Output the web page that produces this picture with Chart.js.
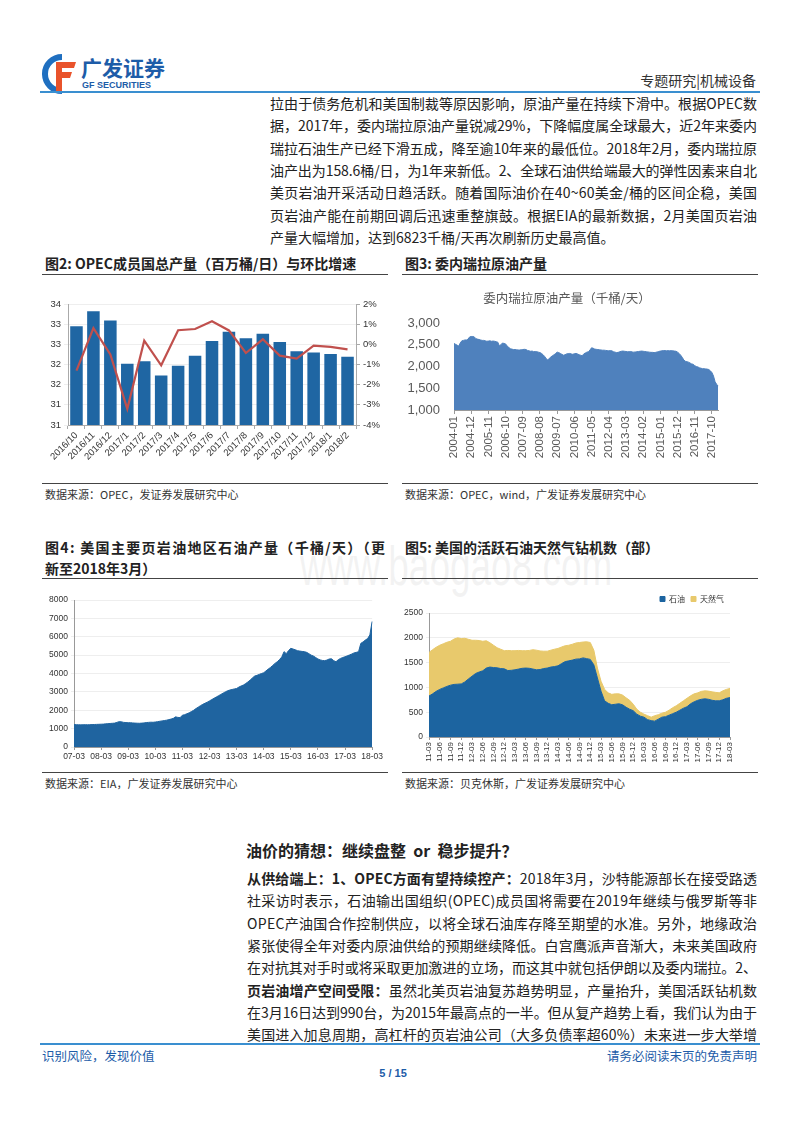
<!DOCTYPE html>
<html><head><meta charset="utf-8">
<script src="https://cdn.jsdelivr.net/npm/chart.js@4.4.1/dist/chart.umd.min.js"></script>
<style>
html,body{margin:0;padding:0;background:#fff;}
body{width:800px;height:1132px;position:relative;overflow:hidden;font-family:"Noto Sans CJK SC","Noto Sans",sans-serif;color:#222;}
.abs{position:absolute;}
.para{position:absolute;font-size:14px;line-height:22.35px;}
.para > div{white-space:nowrap;height:22.35px;}
.fit{display:inline-block;white-space:nowrap;}
.ftitle{position:absolute;font-weight:bold;font-size:14px;line-height:21px;color:#222;white-space:nowrap;}
.hr{position:absolute;height:1px;background:#444;}
.src{position:absolute;font-size:11px;color:#333;line-height:14px;white-space:nowrap;}
canvas{position:absolute;}
</style></head>
<body>
<!-- header -->
<svg class="abs" style="left:42px;top:54px" width="38" height="40" viewBox="0 0 38 40">
  <path d="M20 3 A17 17 0 1 0 20 37" fill="none" stroke="#1f6fc0" stroke-width="6"/>
  <path d="M14 8 H34 L32 14 H20 V18 H30 L28 24 H20 V37 H14 Z" fill="#e9532b"/>
</svg>
<div class="abs" style="left:81px;top:54px;font-size:21px;font-weight:bold;color:#1d5ca8;line-height:26px;">广发证券</div>
<div class="abs" style="left:82px;top:80px;font-size:9px;font-weight:bold;color:#1d5ca8;font-family:'Liberation Sans',Arial,sans-serif;line-height:11px;">GF SECURITIES</div>
<div class="abs" style="right:44px;top:71px;font-size:14px;color:#333;line-height:18px;">专题研究|机械设备</div>
<div class="abs" style="left:40px;top:91px;width:720px;height:2px;background:#3a8fd0;"></div>

<div class="para" style="left:270px;top:92px;" data-w="487">
<div><span class="fit">拉由于债务危机和美国制裁等原因影响，原油产量在持续下滑中。根据OPEC数</span></div>
<div><span class="fit">据，2017年，委内瑞拉原油产量锐减29%，下降幅度属全球最大，近2年来委内</span></div>
<div><span class="fit">瑞拉石油生产已经下滑五成，降至逾10年来的最低位。2018年2月，委内瑞拉原</span></div>
<div><span class="fit">油产出为158.6桶/日，为1年来新低。2、全球石油供给端最大的弹性因素来自北</span></div>
<div><span class="fit">美页岩油开采活动日趋活跃。随着国际油价在40~60美金/桶的区间企稳，美国</span></div>
<div><span class="fit">页岩油产能在前期回调后迅速重整旗鼓。根据EIA的最新数据，2月美国页岩油</span></div>
<div><span>产量大幅增加，达到6823千桶/天再次刷新历史最高值。</span></div>
</div>

<div class="ftitle" style="left:45px;top:253px;">图2:&nbsp;OPEC成员国总产量（百万桶/日）与环比增速</div>
<div class="ftitle" style="left:405px;top:253px;">图3:&nbsp;委内瑞拉原油产量</div>
<div class="hr" style="left:42px;top:274px;width:346px;"></div>
<div class="hr" style="left:402px;top:274px;width:356px;"></div>

<canvas id="c1" width="350" height="180" style="left:40px;top:295px;"></canvas>
<canvas id="c2" width="334" height="180" style="left:400px;top:290px;"></canvas>

<div class="hr" style="left:42px;top:483px;width:346px;"></div>
<div class="hr" style="left:402px;top:483px;width:356px;"></div>
<div class="src" style="left:45px;top:487px;">数据来源：OPEC，发证券发展研究中心</div>
<div class="src" style="left:405px;top:487px;">数据来源：OPEC，wind，广发证券发展研究中心</div>

<div class="abs" style="left:300px;top:535px;font-size:56px;color:rgba(200,200,200,0.22);font-family:'Liberation Sans',Arial,sans-serif;line-height:62px;transform:scaleX(0.66);transform-origin:0 0;white-space:nowrap;">www.baogao8.com</div>

<div class="ftitle" style="left:45px;top:537px;" data-w="340">
<div><span class="fit">图4:&nbsp;美国主要页岩油地区石油产量（千桶/天）（更</span></div>
<div>新至2018年3月）</div>
</div>
<div class="ftitle" style="left:405px;top:537px;">图5:&nbsp;美国的活跃石油天然气钻机数（部）</div>
<div class="hr" style="left:42px;top:578px;width:346px;"></div>
<div class="hr" style="left:402px;top:578px;width:356px;"></div>

<canvas id="c3" width="345" height="180" style="left:40px;top:585px;"></canvas>
<canvas id="c4" width="345" height="185" style="left:400px;top:585px;"></canvas>

<div class="hr" style="left:42px;top:772px;width:346px;"></div>
<div class="hr" style="left:402px;top:772px;width:356px;"></div>
<div class="src" style="left:45px;top:776px;">数据来源：EIA，广发证券发展研究中心</div>
<div class="src" style="left:405px;top:776px;">数据来源：贝克休斯，广发证券发展研究中心</div>

<div class="abs" style="left:246px;top:840px;font-size:16px;font-weight:bold;line-height:20px;white-space:nowrap;">油价的猜想：继续盘整&nbsp;&nbsp;or&nbsp;&nbsp;稳步提升？</div>

<div class="para" style="left:247px;top:867px;" data-w="510">
<div><span class="fit"><b>从供给端上：1、OPEC方面有望持续控产：</b>2018年3月，沙特能源部长在接受路透</span></div>
<div><span class="fit">社采访时表示，石油输出国组织(OPEC)成员国将需要在2019年继续与俄罗斯等非</span></div>
<div><span class="fit">OPEC产油国合作控制供应，以将全球石油库存降至期望的水准。另外，地缘政治</span></div>
<div><span class="fit">紧张使得全年对委内原油供给的预期继续降低。白宫鹰派声音渐大，未来美国政府</span></div>
<div><span class="fit">在对抗其对手时或将采取更加激进的立场，而这其中就包括伊朗以及委内瑞拉。2、</span></div>
<div><span class="fit"><b>页岩油增产空间受限：</b>虽然北美页岩油复苏趋势明显，产量抬升，美国活跃钻机数</span></div>
<div><span class="fit">在3月16日达到990台，为2015年最高点的一半。但从复产趋势上看，我们认为由于</span></div>
<div><span class="fit">美国进入加息周期，高杠杆的页岩油公司（大多负债率超60%）未来进一步大举增</span></div>
</div>

<div class="abs" style="left:40px;top:1043px;width:720px;height:2px;background:#3a8fd0;"></div>
<div class="abs" style="left:42px;top:1047px;font-size:12.5px;color:#1d5ca8;line-height:18px;">识别风险，发现价值</div>
<div class="abs" style="right:43px;top:1047px;font-size:12.5px;color:#1d5ca8;line-height:18px;">请务必阅读末页的免责声明</div>
<div class="abs" style="left:375px;top:1066px;width:36px;text-align:center;font-size:11px;font-weight:bold;color:#1d5ca8;font-family:'Liberation Sans',Arial,sans-serif;line-height:14px;">5 / 15</div>

<script>
// justify each text line to its column width
document.querySelectorAll('[data-w]').forEach(box => {
  const target = parseFloat(box.dataset.w);
  box.querySelectorAll('.fit').forEach(el => {
    el.style.letterSpacing = '0px';
    const w = el.getBoundingClientRect().width;
    const n = [...el.textContent].length;
    el.style.letterSpacing = ((target - w) / (n - 1)) + 'px';
  });
});

// ---------- Figure 2: OPEC output & MoM ----------
const opecMonths = ['2016/10','2016/11','2016/12','2017/1','2017/2','2017/3','2017/4','2017/5','2017/6','2017/7','2017/8','2017/9','2017/10','2017/11','2017/12','2018/1','2018/2'];
const opecOutput = [33.45,33.82,33.59,32.52,32.58,32.23,32.47,32.72,33.08,33.31,33.15,33.26,33.06,32.83,32.80,32.76,32.69];
const opecMoM = [-1.3,0.8,-0.5,-3.2,0.18,-1.04,0.7,0.76,1.14,0.69,-0.43,0.25,-0.56,-0.71,-0.07,-0.13,-0.25];
const opecLeftTicks = ['31','31','32','32','33','33','34'];

// ---------- Figure 3: Venezuela crude output (kb/d), monthly 2004-01..2018-02 ----------
const venStart = [2004, 1];
const venOutput = [
 2530,2510,2490,2470,2540,2590,2600,2610,2610,2630,2680,2690,
 2690,2680,2640,2630,2620,2610,2600,2600,2590,2580,2585,2590,
 2580,2585,2580,2570,2560,2475,2500,2540,2530,2520,2470,2440,
 2410,2400,2390,2390,2385,2380,2380,2385,2390,2395,2390,2370,
 2360,2350,2355,2340,2345,2340,2330,2320,2300,2270,2230,2180,
 2150,2190,2220,2250,2270,2300,2330,2320,2300,2280,2260,2270,
 2290,2295,2300,2290,2280,2295,2300,2290,2270,2260,2245,2290,
 2310,2330,2340,2380,2430,2420,2400,2395,2390,2385,2380,2375,
 2375,2370,2365,2360,2365,2360,2340,2330,2320,2325,2340,2350,
 2355,2350,2345,2340,2340,2345,2335,2330,2335,2340,2345,2350,
 2355,2350,2345,2340,2335,2330,2325,2325,2320,2325,2335,2345,
 2355,2360,2365,2365,2360,2365,2360,2365,2360,2355,2350,2330,
 2300,2260,2210,2150,2120,2110,2100,2080,2060,2050,2020,2000,
 1990,1970,1960,1950,1950,1945,1940,1930,1900,1860,1780,1650,
 1590,1550];

// ---------- Figure 4: US shale oil output (kb/d), monthly 07-03..18-03 ----------
const shaleStart = [2007, 3];
const shaleOutput = [
 1220,1215,1210,1205,1210,1215,1210,1215,1220,1225,
 1230,1235,1240,1245,1260,1270,1280,1290,1300,1340,1380,1370,
 1340,1330,1320,1325,1310,1300,1295,1290,1300,1310,1330,1340,
 1350,1345,1360,1380,1400,1420,1440,1460,1490,1520,1560,1640,
 1610,1600,1730,1760,1810,1860,1930,2000,2090,2170,2250,2320,
 2380,2440,2510,2580,2650,2720,2790,2860,2930,3000,3060,3100,
 3130,3160,3185,3260,3320,3370,3450,3540,3640,3760,3860,3900,
 3950,4000,4040,4140,4240,4330,4440,4550,4640,4760,4900,5190,
 5080,5250,5370,5330,5290,5240,5220,5200,5190,5150,5080,5000,
 4950,4870,4790,4740,4710,4700,4730,4790,4800,4700,4640,4750,
 4820,4870,4910,4960,5010,5060,5120,5150,5190,5640,5720,5820,
 5900,6100,6830];

// ---------- Figure 5: US active rigs, monthly 11-03..18-03 ----------
const rigStart = [2011, 3];
const rigOil = [
 825,870,920,960,990,1020,1045,1060,1065,1070,
 1110,1170,1225,1280,1310,1335,1390,1410,1400,1395,1380,1375,
 1340,1345,1355,1370,1385,1390,1385,1370,1355,1360,1380,1390,
 1410,1420,1435,1480,1520,1535,1550,1570,1575,1595,1580,1565,
 1455,1190,925,730,680,650,660,670,650,600,560,530,
 460,420,400,350,330,320,360,400,410,440,470,500,
 540,580,610,670,710,740,760,770,760,740,730,730,
 750,780,795];
const rigGas = [
 880,890,890,890,890,890,885,915,935,915,
 880,800,725,670,635,595,550,490,450,405,390,365,
 405,395,385,375,355,350,360,390,395,375,350,340,
 340,350,350,335,320,315,320,325,330,320,340,340,
 295,200,200,230,210,210,210,200,195,190,180,130,
 100,80,60,80,70,110,90,80,90,100,120,130,
 140,150,170,160,160,150,160,160,165,170,170,160,
 180,180,185];
const rigSeriesNames = ['石油','天然气'];

function monthLabels(start, n, fmt) {
  const out = [];
  let y = start[0], m = start[1];
  for (let i = 0; i < n; i++) {
    const mm = String(m).padStart(2, '0');
    out.push(fmt === 'long' ? y + '-' + mm : String(y % 100).padStart(2, '0') + '-' + mm);
    m++; if (m > 12) { m = 1; y++; }
  }
  return out;
}
const venMonths = monthLabels(venStart, venOutput.length, 'long');
const shaleMonths = monthLabels(shaleStart, shaleOutput.length, 'short');
const rigMonths = monthLabels(rigStart, rigOil.length, 'short');

Chart.defaults.font.family = "'Liberation Sans', Arial, sans-serif";
Chart.defaults.color = '#333';
Chart.defaults.animation = false;
Chart.defaults.plugins.tooltip.enabled = false;

// Chart 1
new Chart(document.getElementById('c1'), {
  data: {
    labels: opecMonths,
    datasets: [
      {type:'line', label:'环比增速', data:opecMoM, yAxisID:'y1', borderColor:'#c0504d', borderWidth:2.2, pointRadius:0, tension:0, order:0},
      {type:'bar', label:'OPEC总产量', data:opecOutput, yAxisID:'y', backgroundColor:'#1f66a3', barPercentage:0.74, categoryPercentage:1, order:1}
    ]
  },
  options: {
    responsive:false,
    plugins:{legend:{display:false}},
    layout:{padding:{top:9,left:0,right:0,bottom:0}},
    scales:{
      x:{grid:{drawOnChartArea:false, tickLength:4, color:'#aaa'}, border:{color:'#aaa'},
         ticks:{autoSkip:false, maxRotation:45, minRotation:45, font:{size:9.5}, color:'#333', padding:1},
         afterFit(s){ s.height = 50; }},
      y:{min:31, max:34, grid:{color:'#eeeeee', tickLength:4}, border:{color:'#aaa'},
         ticks:{stepSize:0.5, font:{size:9.5}, color:'#333', padding:3, callback:(v,i)=>opecLeftTicks[i]},
         afterFit(s){ s.width = 28; }},
      y1:{position:'right', min:-4, max:2, grid:{drawOnChartArea:false, tickLength:4, color:'#aaa'}, border:{color:'#aaa'},
         ticks:{stepSize:1, font:{size:9.5}, color:'#333', padding:3, callback:v=>v+'%'},
         afterFit(s){ s.width = 34; }}
    }
  }
});

// Chart 2
new Chart(document.getElementById('c2'), {
  type:'line',
  data:{labels:venMonths, datasets:[{label:'委内瑞拉原油产量', data:venOutput, fill:'start', backgroundColor:'#4f81bd', borderColor:'#4f81bd', borderWidth:1, pointRadius:0, tension:0}]},
  options:{
    responsive:false,
    plugins:{legend:{display:false},
      title:{display:true, text:'委内瑞拉原油产量（千桶/天）', color:'#595959', font:{family:"'Noto Sans CJK SC'", size:12.5, weight:'normal'}, padding:{top:1,bottom:17}}},
    layout:{padding:{top:0,left:0,right:0,bottom:0}},
    scales:{
      x:{offset:false, grid:{drawOnChartArea:false, tickLength:4, color:(c)=> (c.index % 11 === 0 ? '#999' : 'transparent')}, border:{color:'#999'},
         ticks:{autoSkip:false, maxRotation:90, minRotation:90, font:{size:11.5}, color:'#595959', padding:2,
                callback:(v,i)=> (i % 11 === 0 ? venMonths[i] : '')},
         afterFit(s){ s.height = 60; }},
      y:{min:1000, max:3000, grid:{display:false}, border:{display:false},
         ticks:{stepSize:500, font:{size:13}, color:'#595959', padding:6, callback:v=>v.toLocaleString('en-US')},
         afterFit(s){ s.width = 54; }}
    }
  }
});

// Chart 3
new Chart(document.getElementById('c3'), {
  type:'line',
  data:{labels:shaleMonths, datasets:[{label:'美国主要页岩油地区石油产量', data:shaleOutput, fill:'origin', backgroundColor:'#1f64a0', borderColor:'#1f64a0', borderWidth:1, pointRadius:0, tension:0}]},
  options:{
    responsive:false,
    plugins:{legend:{display:false}},
    layout:{padding:{top:15,left:0,right:12,bottom:0}},
    scales:{
      x:{offset:false, grid:{drawOnChartArea:false, tickLength:3, color:(c)=> (c.index % 12 === 0 ? '#999' : 'transparent')}, border:{color:'#999'},
         ticks:{autoSkip:false, maxRotation:0, minRotation:0, font:{size:8.5}, color:'#333', padding:2,
                callback:(v,i)=> (i % 12 === 0 ? shaleMonths[i] : '')},
         afterFit(s){ s.height = 18; }},
      y:{min:0, max:8000, grid:{color:'#eeeeee', tickLength:3}, border:{color:'#999'},
         ticks:{stepSize:1000, font:{size:8.5}, color:'#333', padding:3, callback:v=>String(v)},
         afterFit(s){ s.width = 34; }}
    }
  }
});

// Chart 4
new Chart(document.getElementById('c4'), {
  type:'line',
  data:{labels:rigMonths, datasets:[
    {label:rigSeriesNames[0], data:rigOil, fill:'origin', backgroundColor:'#1c64a0', borderColor:'#1c64a0', borderWidth:1, pointRadius:0, tension:0},
    {label:rigSeriesNames[1], data:rigGas, fill:'-1', backgroundColor:'#e8c96c', borderColor:'#e8c96c', borderWidth:1, pointRadius:0, tension:0}
  ]},
  options:{
    responsive:false,
    plugins:{legend:{display:true, position:'top', align:'end',
      labels:{boxWidth:5, boxHeight:5, padding:6, font:{family:"'Noto Sans CJK SC'", size:8}, color:'#333'}}},
    layout:{padding:{top:4,left:0,right:15,bottom:0}},
    scales:{
      x:{offset:false, grid:{drawOnChartArea:false, tickLength:3, color:(c)=> (c.index % 3 === 0 ? '#999' : 'transparent')}, border:{color:'#999'},
         ticks:{autoSkip:false, maxRotation:90, minRotation:90, font:{size:8}, color:'#333', padding:2,
                callback:(v,i)=> (i % 3 === 0 ? rigMonths[i] : '')},
         afterFit(s){ s.height = 33; }},
      y:{stacked:true, min:0, max:2500, grid:{color:'#eeeeee', tickLength:3}, border:{color:'#999'},
         ticks:{stepSize:500, font:{size:8.5}, color:'#333', padding:3, callback:v=>String(v)},
         afterFit(s){ s.width = 29; }}
    }
  }
});
</script>
</body></html>
